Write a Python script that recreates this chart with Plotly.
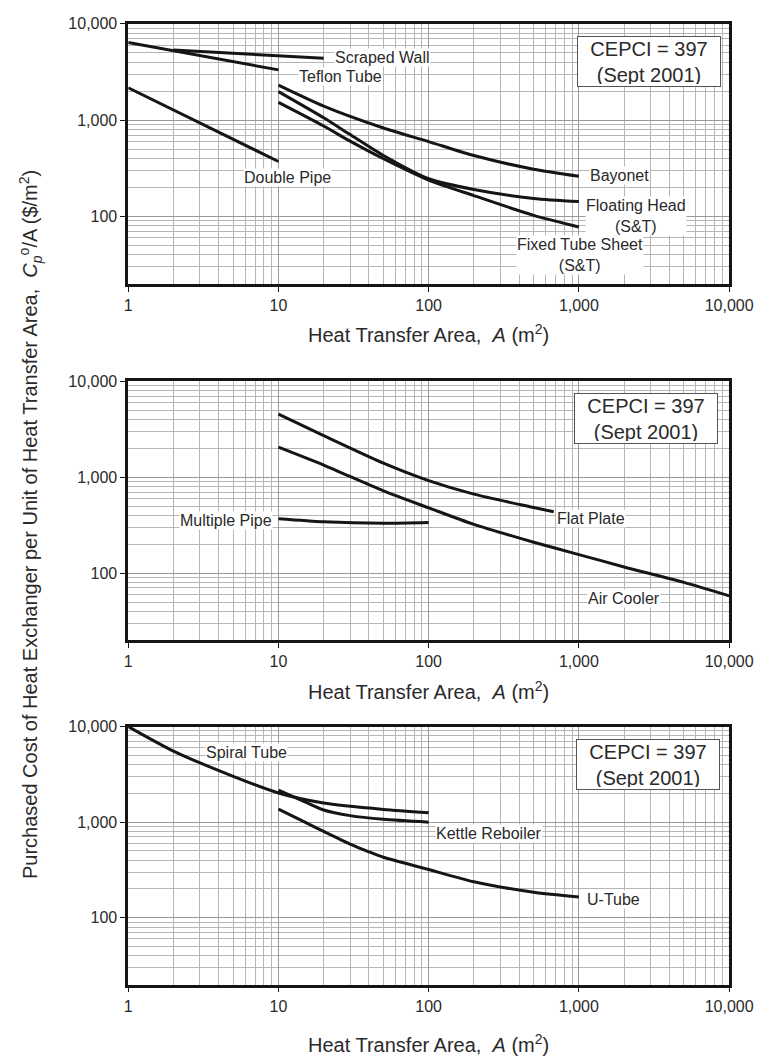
import math
import plotly.graph_objects as go

# ---------------- top panel ----------------
scraped_wall_area = [2, 5, 10, 20]
scraped_wall_cost = [5350, 4950, 4670, 4400]
teflon_tube_area = [1, 2, 5, 10]
teflon_tube_cost = [6400, 5250, 4050, 3330]
double_pipe_area = [1, 2, 5, 10]
double_pipe_cost = [2170, 1280, 635, 373]
bayonet_area = [10, 20, 50, 100, 200, 500, 1000]
bayonet_cost = [2310, 1400, 830, 600, 430, 310, 262]
floating_head_area = [10, 20, 30, 50, 100, 200, 500, 1000]
floating_head_cost = [1980, 1060, 710, 430, 247, 191, 154, 143]
fixed_tube_area = [10, 20, 30, 50, 100, 200, 500, 1000]
fixed_tube_cost = [1530, 870, 606, 398, 239, 165, 103, 78]

# ---------------- middle panel ----------------
flat_plate_area = [10, 20, 50, 100, 200, 500, 680]
flat_plate_cost = [4540, 2710, 1400, 920, 665, 483, 435]
air_cooler_area = [10, 20, 50, 100, 200, 500, 1000, 2000, 5000, 10000]
air_cooler_cost = [2050, 1334, 720, 479, 322, 210, 156, 116, 80, 58]
multiple_pipe_area = [10, 20, 50, 100]
multiple_pipe_cost = [368, 342, 330, 336]

# ---------------- bottom panel ----------------
spiral_tube_area = [1, 2, 5, 10, 20, 50, 100]
spiral_tube_cost = [10000, 5540, 3015, 2020, 1585, 1360, 1255]
kettle_area = [10, 15, 20, 30, 50, 100]
kettle_cost = [2160, 1630, 1340, 1170, 1070, 1000]
u_tube_area = [10, 15, 20, 30, 40, 50, 100, 200, 500, 1000]
u_tube_cost = [1370, 1000, 800, 590, 490, 430, 320, 238, 185, 165]

# ---------------- axis ticks ----------------
x_tick_vals = [1, 10, 100, 1000, 10000]
x_tick_text = ["1", "10", "100", "1,000", "10,000"]
y_tick_vals = [100, 1000, 10000]
y_tick_text = ["100", "1,000", "10,000"]

FONT = "Liberation Sans, Arial, Helvetica, sans-serif"
INK = "#151515"
TEXT = "#2a2a2a"

W, H = 783, 1063
X_DOMAIN = [129 / W, 753 / W]
Y_DOMAINS = [
    [(H - 278) / H, (H - 16) / H],
    [(H - 637) / H, (H - 376) / H],
    [(H - 984) / H, (H - 724) / H],
]

fig = go.Figure()

series = [
    (1, scraped_wall_area, scraped_wall_cost, "linear"),
    (1, teflon_tube_area, teflon_tube_cost, "linear"),
    (1, double_pipe_area, double_pipe_cost, "linear"),
    (1, bayonet_area, bayonet_cost, "spline"),
    (1, floating_head_area, floating_head_cost, "spline"),
    (1, fixed_tube_area, fixed_tube_cost, "spline"),
    (2, flat_plate_area, flat_plate_cost, "spline"),
    (2, air_cooler_area, air_cooler_cost, "spline"),
    (2, multiple_pipe_area, multiple_pipe_cost, "spline"),
    (3, spiral_tube_area, spiral_tube_cost, "spline"),
    (3, kettle_area, kettle_cost, "spline"),
    (3, u_tube_area, u_tube_cost, "spline"),
]

for panel, xs, ys, shape in series:
    suffix = "" if panel == 1 else str(panel)
    fig.add_trace(go.Scatter(
        x=xs, y=ys, mode="lines",
        line=dict(color=INK, width=3, shape=shape, smoothing=0.7),
        xaxis="x" + suffix, yaxis="y" + suffix,
        showlegend=False, hoverinfo="skip",
    ))

axis_common = dict(
    type="log",
    showline=True, mirror=True, linewidth=2.5, linecolor=INK,
    ticks="outside", ticklen=5, tickwidth=1, tickcolor=INK,
    tickfont=dict(family=FONT, size=16, color=TEXT),
    showgrid=True, gridcolor="#9a9a9a", gridwidth=1,
    minor=dict(dtick="D1", showgrid=True, gridcolor="#b6b6b6", gridwidth=1, ticks=""),
    zeroline=False,
)

layout_axes = {}
for i, ydom in enumerate(Y_DOMAINS, start=1):
    suffix = "" if i == 1 else str(i)
    layout_axes["xaxis" + suffix] = dict(
        axis_common, domain=X_DOMAIN, range=[0, 4],
        tickmode="array", tickvals=x_tick_vals, ticktext=x_tick_text,
        anchor="y" + suffix,
    )
    layout_axes["yaxis" + suffix] = dict(
        axis_common, domain=ydom, range=[math.log10(20), 4],
        tickmode="array", tickvals=y_tick_vals, ticktext=y_tick_text,
        anchor="x" + suffix,
    )

annotations = []

# curve labels: (text, panel, area, cost, xanchor)
curve_labels = [
    ("Scraped Wall", 1, 23.3, 4430, "left"),
    ("Teflon Tube", 1, 13.5, 2860, "left"),
    ("Double Pipe", 1, 11.5, 252, "center"),
    ("Bayonet", 1, 1170, 268, "left"),
    ("Floating Head<br>(S&T)", 1, 2390, 101, "center"),
    ("Fixed Tube Sheet<br>(S&T)", 1, 1010, 40, "center"),
    ("Multiple Pipe", 2, 9.2, 354, "right"),
    ("Flat Plate", 2, 705, 375, "left"),
    ("Air Cooler", 2, 2000, 55, "center"),
    ("Spiral Tube", 3, 6.15, 5380, "center"),
    ("Kettle Reboiler", 3, 111, 766, "left"),
    ("U-Tube", 3, 1120, 156, "left"),
]
for text, panel, ax, ay, anchor in curve_labels:
    suffix = "" if panel == 1 else str(panel)
    annotations.append(dict(
        text=text, x=math.log10(ax), y=math.log10(ay),
        xref="x" + suffix, yref="y" + suffix,
        xanchor=anchor, yanchor="middle", showarrow=False,
        font=dict(family=FONT, size=16, color=TEXT),
        bgcolor="white", borderpad=0,
    ))

# CEPCI boxes
for cx, cy in [(670, 53.5), (666.5, 414), (668.5, 762.5)]:
    annotations.append(dict(
        text="CEPCI = 397<br>(Sept 2001)",
        x=cx / W, y=(H - cy) / H, xref="paper", yref="paper",
        xanchor="center", yanchor="middle", showarrow=False,
        font=dict(family=FONT, size=20, color=TEXT),
        bgcolor="white", bordercolor="#555555", borderwidth=1,
        borderpad=2, width=138, height=45,
    ))

# x-axis titles
for ty in [328, 688, 1043]:
    annotations.append(dict(
        text="Heat Transfer Area,&nbsp; <i>A</i> (m<sup>2</sup>)",
        x=441 / W, y=(H - ty) / H, xref="paper", yref="paper",
        xanchor="center", yanchor="middle", showarrow=False,
        font=dict(family=FONT, size=20, color=TEXT),
    ))

# shared y-axis title
annotations.append(dict(
    text="Purchased Cost of Heat Exchanger per Unit of Heat Transfer Area,&nbsp; "
         "<i>C</i><sub><i>p</i></sub><sup>o</sup>/A ($/m<sup>2</sup>)",
    x=27 / W, y=(H - 521) / H, xref="paper", yref="paper",
    xanchor="center", yanchor="middle", textangle=-90, showarrow=False,
    font=dict(family=FONT, size=20, color=TEXT),
))

fig.update_layout(
    width=W, height=H,
    margin=dict(l=0, r=0, t=0, b=0),
    paper_bgcolor="white", plot_bgcolor="white",
    annotations=annotations,
    **layout_axes,
)

fig.write_html("out.html")
